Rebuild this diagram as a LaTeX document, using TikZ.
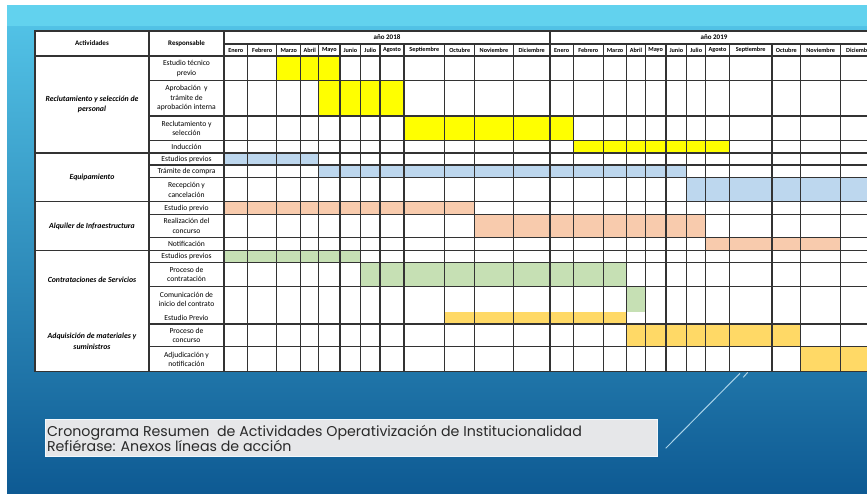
\documentclass[tikz,border=0pt]{standalone}
\usepackage{fontspec}
\setmainfont{Carlito}
\newfontfamily\capfont{Poppins}
\definecolor{cY}{HTML}{FFFF00}
\definecolor{cB}{HTML}{BDD7EE}
\definecolor{cO}{HTML}{F8CBAD}
\definecolor{cG}{HTML}{C6E0B4}
\definecolor{cD}{HTML}{FFD966}
\definecolor{gridc}{HTML}{333333}
\definecolor{bandc}{HTML}{62D2EE}
\definecolor{bgtop}{HTML}{52C2E6}
\definecolor{bgmid}{HTML}{2A8CBF}
\definecolor{bgbot}{HTML}{0E5A93}
\definecolor{capbg}{HTML}{E6E7E9}
\definecolor{capline}{HTML}{A9D2E8}
\definecolor{captext}{HTML}{2A2A2A}
\begin{document}
\begin{tikzpicture}[x=1pt,y=-1pt,
  grid/.style={draw=gridc, line width=1.15pt},
  cell/.style={font=\fontsize{7.6}{9.6}\selectfont, align=center, inner sep=0pt},
  month/.style={font=\bfseries\fontsize{6.2}{7}\selectfont, inner sep=0pt},
  group/.style={font=\bfseries\itshape\fontsize{7.8}{10.5}\selectfont, align=center, inner sep=0pt},
  head/.style={font=\bfseries\fontsize{7}{8}\selectfont, inner sep=0pt},
  bar/.style={fill=#1},
]
\useasboundingbox (0,0) rectangle (867,493);
\clip (0,0) rectangle (867,493);
\fill[white] (0,0) rectangle (867,493);
\shade[top color=bgtop, middle color=bgmid, bottom color=bgbot] (7,24) rectangle (867,493);
\fill[bandc] (7,5) rectangle (867,26);
% table background
\fill[white] (35,31) rectangle (878,371.7);
% column and row coordinates
\foreach \x [count=\i from 0] in {224,247.7,276.7,300.7,318.7,340,360.7,380,404,444.7,474.7,513.3,550,573.3,603.3,626.7,645.3,666,686.7,705.7,729.3,772,800.7,840.7,878}
  \coordinate (c\i) at (\x,0);
\foreach \y [count=\i from 0] in {56,80.7,116,140.7,153,165,177.7,201.7,214.3,237.3,250.3,262.3,286.7,311.7,324,346.7,371.7}
  \coordinate (r\i) at (0,\y);
% bars
\foreach \r/\a/\b/\col [evaluate=\a as \aa using int(\a-1), evaluate=\r as \rr using int(\r-1)] in
  {1/3/5/cY, 2/5/8/cY, 3/9/13/cY, 4/14/20/cY,
   5/1/4/cB, 6/5/18/cB, 7/19/24/cB,
   8/1/10/cO, 9/11/19/cO, 10/20/23/cO,
   11/1/6/cG, 12/7/15/cG, 13/16/16/cG,
   14/10/15/cD, 15/16/22/cD, 16/23/24/cD}
  \fill[bar=\col] (c\aa |- r\rr) rectangle (c\b |- r\r);
% grid
\foreach \i in {1,...,11,13,14,...,23}
  \draw[grid] (c\i |- 0,44) -- (c\i |- r16);
\draw[grid] (c12 |- 0,31) -- (c12 |- r16);
\draw[grid] (149,31) -- (149,371.7);
\draw[grid] (224,31) -- (224,371.7);
\draw[grid] (224,44) -- (878,44);
\draw[grid] (35,56) -- (878,56);
\foreach \j in {1,2,3,5,6,8,9,11,12,14,15}
  \draw[grid] (149,0 |- r\j) -- (878,0 |- r\j);
\foreach \j in {4,7,10}
  \draw[grid] (35,0 |- r\j) -- (878,0 |- r\j);
\draw[grid] (35,31) rectangle (878,371.7);
% headers
\node[head] (hAct) at (92,43.5) {Actividades};
\node[head] (hResp) at (186.5,43.5) {Responsable};
\node[head] (y18) at (387,37.5) {año 2018};
\node[head] (y19) at (714,37.5) {año 2019};
\foreach \xa/\xb/\m [count=\i] in {224/247.7/Enero,247.7/276.7/Febrero,276.7/300.7/Marzo,300.7/318.7/Abril,318.7/340/Mayo,340/360.7/Junio,360.7/380/Julio,380/404/Agosto,404/444.7/Septiembre,444.7/474.7/Octubre,474.7/513.3/Noviembre,513.3/550/Diciembre,550/573.3/Enero,573.3/603.3/Febrero,603.3/626.7/Marzo,626.7/645.3/Abril,645.3/666/Mayo,666/686.7/Junio,686.7/705.7/Julio,705.7/729.3/Agosto,729.3/772/Septiembre,772/800.7/Octubre,800.7/840.7/Noviembre,840.7/878/Diciembre}
  \node[month] (m\i) at ({(\xa+\xb)/2},50.3) {\m};
% group labels
\node[group] (g1) at (92,104.5) {Reclutamiento y selección de\\personal};
\node[group] (g2) at (92,177) {Equipamiento};
\node[group] (g3) at (92,226) {Alquiler de Infraestructura};
\node[group] (g4) at (92,280) {Contrataciones de Servicios};
\node[group] (g5) at (92,341.5) {Adquisición de materiales y\\suministros};
% activity labels
\node[cell] (a1) at (186.5,68.35) {Estudio técnico\\previo};
\node[cell] (a2) at (186.5,98.35) {Aprobación \ y\\trámite de\\aprobación interna};
\node[cell] (a3) at (186.5,128.35) {Reclutamiento y\\selección};
\node[cell] (a4) at (186.5,146.85) {Inducción};
\node[cell] (a5) at (186.5,159) {Estudios previos};
\node[cell] (a6) at (186.5,171.35) {Trámite de compra};
\node[cell] (a7) at (186.5,189.7) {Recepción y\\cancelación};
\node[cell] (a8) at (186.5,208) {Estudio previo};
\node[cell] (a9) at (186.5,225.8) {Realización del\\concurso};
\node[cell] (a10) at (186.5,243.8) {Notificación};
\node[cell] (a11) at (186.5,256.3) {Estudios previos};
\node[cell] (a12) at (186.5,274.5) {Proceso de\\contratación};
\node[cell] (a13) at (186.5,299.2) {Comunicación de\\inicio del contrato};
\node[cell] (a14) at (186.5,317.85) {Estudio Previo};
\node[cell] (a15) at (186.5,335.35) {Proceso de\\concurso};
\node[cell] (a16) at (186.5,359.2) {Adjudicación y\\notificación};
% caption
\fill[capbg, draw=white!85!capline, line width=0.8pt] (45,419.3) rectangle (657.3,456.7);
\node[anchor=west, align=left, inner sep=0pt, text=captext,
  font=\capfont\fontsize{14.2}{15.7}\selectfont] (cap) at (46.8,438.6)
  {Cronograma Resumen \ de Actividades Operativización de Institucionalidad\\Refiérase: Anexos líneas de acción};
% pointer line
\coordinate (p1) at (740,373.3);
\coordinate (p2) at (665.7,448.3);
\coordinate (t1) at (747.7,372.3);
\coordinate (t2) at (743.3,377.3);
\draw[capline, line width=1pt] (p1) -- (p2);
\draw[capline, line width=1pt] (t1) -- (t2);
\end{tikzpicture}
\end{document}
